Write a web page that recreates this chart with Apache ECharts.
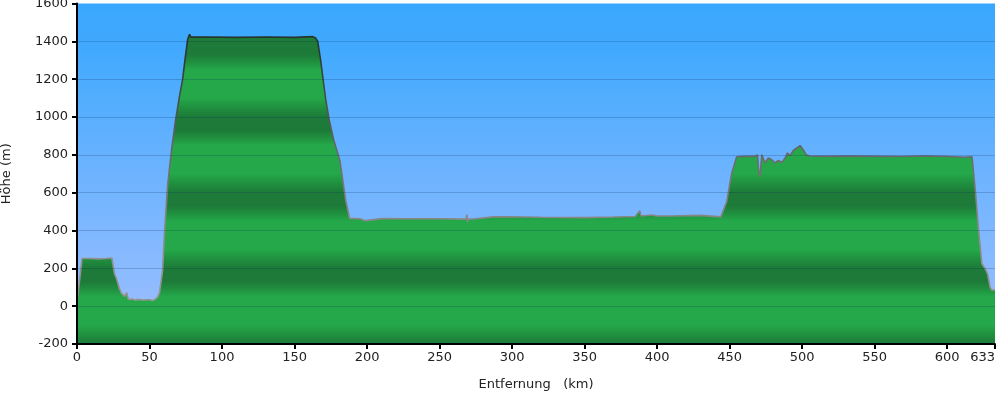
<!DOCTYPE html>
<html>
<head>
<meta charset="utf-8">
<script src="https://cdn.jsdelivr.net/npm/echarts@6/dist/echarts.min.js"></script>
<style>
html,body{margin:0;padding:0;background:#fff;}
#c{width:1000px;height:394px;}
</style>
</head>
<body>
<div id="c"></div>
<script>
const distKm = [0, 0.8, 3.5, 8, 15, 20, 24, 24.5, 25.9, 27.3, 29.3, 30.7, 32.8, 34.2, 35.5, 38, 40, 42, 46, 50, 52, 53.5, 55.6, 56.9, 59, 60.4, 62.5, 65.2, 68, 70.7, 72.8, 74.5, 76.3, 77.6, 78.5, 90, 110, 130, 150, 162.5, 164.5, 166, 168, 171.5, 174, 177, 181.2, 185.3, 188, 195, 199, 200, 210, 230, 250, 268.3, 268.8, 269.3, 270, 275, 286.8, 300, 320, 333, 350, 370, 385, 388, 389, 396.5, 400, 410, 429.6, 443.9, 448, 451.5, 454.9, 460, 467.6, 469.2, 470.1, 471, 472.2, 473.3, 474.5, 476.7, 479.1, 481.4, 483.6, 486, 488.3, 489.9, 491.7, 494, 496.3, 498.6, 500.9, 502.8, 505, 515, 533, 550, 567.7, 585, 600, 612, 617.1, 619.4, 621.7, 624, 626.3, 627.9, 629.7, 630.9, 633];
const elevM = [18, 24, 252, 252, 250, 252, 255, 256, 170, 145, 92, 68, 52, 72, 35, 38, 32, 36, 33, 35, 30, 34, 48, 72, 188, 402, 640, 825, 985, 1110, 1198, 1305, 1410, 1437, 1422, 1423, 1421, 1423, 1421, 1425, 1418, 1400, 1300, 1092, 980, 879, 772, 559, 464, 462, 452, 462, 463, 462, 462, 460, 484, 447, 460, 462, 472, 473, 470, 469, 468, 471, 474, 505, 477, 482, 477, 477, 480, 472, 552, 704, 790, 792, 792, 800, 712, 685, 800, 802, 757, 783, 774, 757, 770, 760, 783, 810, 795, 824, 836, 849, 824, 801, 794, 792, 793, 792, 791, 794, 791, 787, 790, 614, 402, 224, 197, 171, 99, 85, 87];
const yTicks = [-200, 0, 200, 400, 600, 800, 1000, 1200, 1400, 1600];
const xTickLabels = [0, 50, 100, 150, 200, 250, 300, 350, 400, 450, 500, 550, 600, 633];

const profile = distKm.map((d, i) => [d, elevM[i]]);

const GT = 3.5, GB = 344; // plot top/bottom in px
const yMin = -200, yMax = 1600;
function fracOf(v) { return (yMax - v) / (yMax - yMin); }

// banded green fill (dark just below 1400/1000/600/200, light between)
const DARK = '#1d7a39', LIGHT = '#24a84a', MIDD = '#20903f';
const gStops = [];
gStops.push({offset: 0, color: DARK});
for (let d = 1400; d >= -200; d -= 400) {
  gStops.push({offset: fracOf(d), color: DARK});
  if (d - 70 >= -200) gStops.push({offset: fracOf(d - 70), color: DARK});
  if (d - 110 >= -200) gStops.push({offset: fracOf(d - 110), color: MIDD});
  if (d - 150 >= -200) gStops.push({offset: fracOf(d - 150), color: LIGHT});
  if (d - 300 >= -200) gStops.push({offset: fracOf(d - 300), color: LIGHT});
  if (d - 350 >= -200) gStops.push({offset: fracOf(d - 350), color: MIDD});
}
gStops.push({offset: 1, color: DARK});

const chart = echarts.init(document.getElementById('c'), null, {renderer: 'canvas'});
const font = 'DejaVu Sans';
chart.setOption({
  animation: false,
  backgroundColor: '#ffffff',
  grid: {
    left: 77, right: 5, top: GT, bottom: 394 - GB,
    containLabel: false, outerBoundsMode: 'none',
    show: true, borderWidth: 0,
    backgroundColor: {
      type: 'linear', x: 0, y: 0, x2: 0, y2: 1,
      colorStops: [
        {offset: 0, color: '#3aa7fe'},
        {offset: 0.12, color: '#40a9fe'},
        {offset: 0.3, color: '#55aefe'},
        {offset: 0.5, color: '#6db3ff'},
        {offset: 0.68, color: '#80b8ff'},
        {offset: 0.85, color: '#92bcff'},
        {offset: 1, color: '#9ec2ff'}
      ]
    }
  },
  xAxis: {
    type: 'value', min: 0, max: 633, z: 3,
    name: 'Entfernung   (km)', nameLocation: 'middle', nameGap: 34,
    nameTextStyle: {fontFamily: font, fontSize: 13, color: '#222'},
    axisLine: {onZero: false, lineStyle: {color: '#000', width: 2}},
    axisTick: {show: true, length: 5, lineStyle: {color: '#000', width: 2}, customValues: xTickLabels},
    axisLabel: {fontFamily: font, fontSize: 13, color: '#222', margin: 7, customValues: xTickLabels, alignMaxLabel: 'right', formatter: v => String(v)},
    splitLine: {show: false}
  },
  yAxis: {
    type: 'value', min: yMin, max: yMax, interval: 200, z: 3,
    name: 'Höhe (m)', nameLocation: 'middle', nameGap: 64, nameRotate: 90,
    nameTextStyle: {fontFamily: font, fontSize: 13, color: '#222'},
    axisLine: {show: true, lineStyle: {color: '#000', width: 2}},
    axisTick: {show: true, length: 5, lineStyle: {color: '#000', width: 2}},
    axisLabel: {fontFamily: font, fontSize: 13, color: '#222', margin: 9, formatter: v => String(v)},
    splitLine: {show: true, showMinLine: false, showMaxLine: false, lineStyle: {color: 'rgba(10,40,90,0.22)', width: 1}}
  },
  series: [{
    type: 'line',
    data: profile,
    symbol: 'none',
    smooth: false,
    z: 2,
    lineStyle: {
      width: 1.6,
      color: {
        type: 'linear', global: true, x: 0, y: GT, x2: 0, y2: GB,
        colorStops: [
          {offset: 0, color: '#1e2a24'},
          {offset: 0.15, color: '#2a3a30'},
          {offset: 0.45, color: '#6a6a6a'},
          {offset: 0.65, color: '#8a8a8a'},
          {offset: 1, color: '#9a9a9a'}
        ]
      }
    },
    areaStyle: {
      origin: 'start',
      opacity: 1,
      color: {
        type: 'linear', global: true, x: 0, y: GT, x2: 0, y2: GB,
        colorStops: gStops
      }
    }
  }]
});
</script>
</body>
</html>
